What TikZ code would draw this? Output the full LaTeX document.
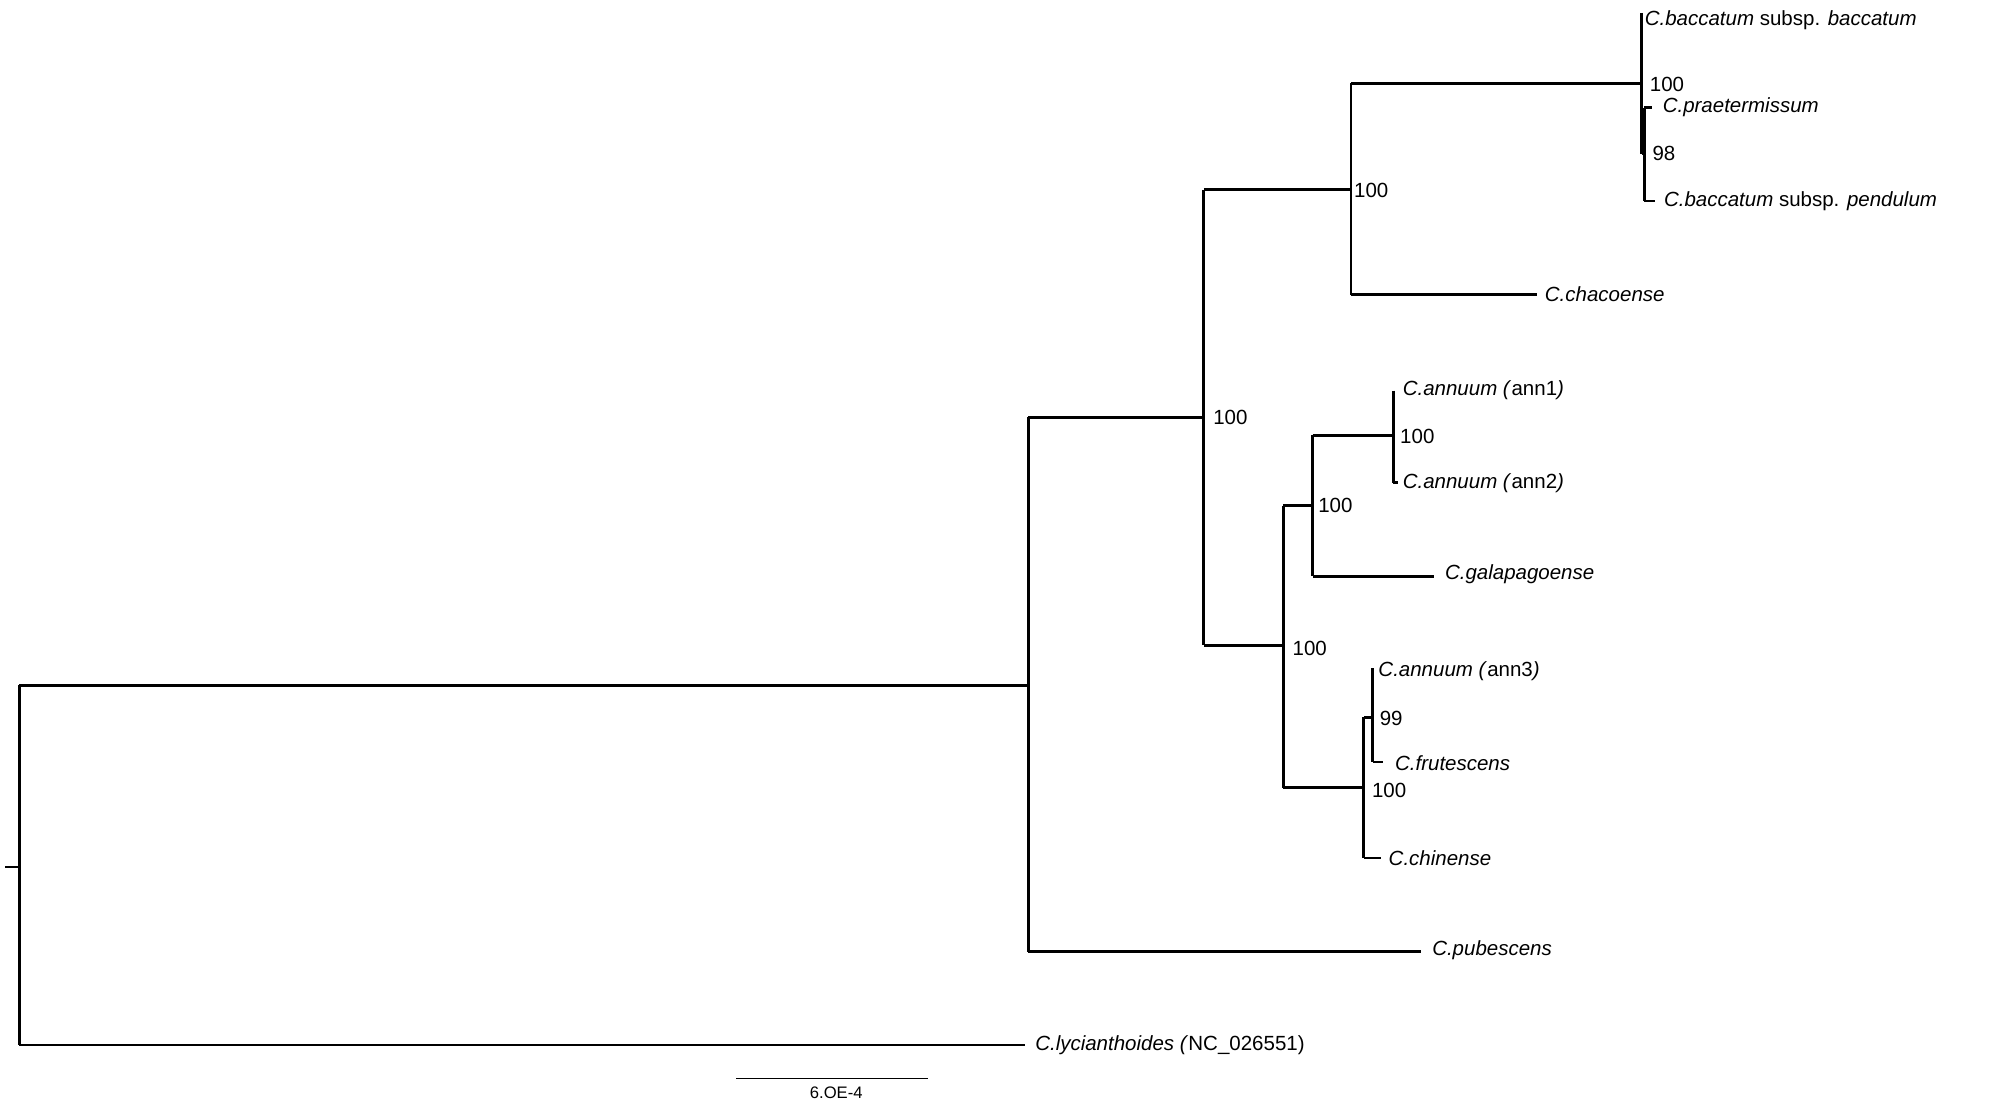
\documentclass[tikz,border=0pt]{standalone}
\usepackage{fontspec}
\setmainfont{Liberation Sans}
\begin{document}
\begin{tikzpicture}[x=0.5pt,y=-0.5pt,
  br/.style={line width=1.1pt},
  tx/.style={anchor=west,inner sep=2pt,font=\fontsize{8}{9}\selectfont},
  bs/.style={anchor=west,inner sep=2pt,font=\fontsize{8}{9}\selectfont}]
\useasboundingbox (0,0) rectangle (1568,861);
% coordinates
\coordinate (r0) at (4,677);
\coordinate (R) at (15,677);
\coordinate (A) at (803,535);
\coordinate (B) at (940,326);
\coordinate (C) at (1055,148);
\coordinate (D) at (1282,65);
\coordinate (E) at (1284,120);
\coordinate (F) at (1002,504);
\coordinate (G) at (1025,395);
\coordinate (H) at (1088,340);
\coordinate (I) at (1065,615);
\coordinate (J) at (1072,560);
% tips
\coordinate (tpra) at (1290,84);
\coordinate (tpen) at (1292,157);
\coordinate (tcha) at (1200,230);
\coordinate (ta2) at (1092,377);
\coordinate (tgal) at (1120,450);
\coordinate (tfru) at (1080,595);
\coordinate (tchi) at (1078,670);
\coordinate (tpub) at (1110,743);
\coordinate (tlyc) at (800,816);
% branches
\draw[br] (r0) -- (R);
\draw[br] (15,535) -- (15,816);
\draw[br] (15,535) -- (A);
\draw[br] (15,816) -- (tlyc);
\draw[br] (803,326) -- (803,743);
\draw[br] (803,743) -- (tpub);
\draw[br] (803,326) -- (B);
\draw[br] (940,148) -- (940,504);
\draw[br] (940,148) -- (C);
\draw[br] (940,504) -- (F);
\draw[br] (1055,65) -- (1055,230);
\draw[br] (1055,65) -- (D);
\draw[br] (1055,230) -- (tcha);
\draw[br] (1282,10) -- (1282,120);
\draw[br] (1282,120) -- (E);
\draw[br] (1284,84) -- (1284,157);
\draw[br] (1284,84) -- (tpra);
\draw[br] (1284,157) -- (tpen);
\draw[br] (1002,395) -- (1002,615);
\draw[br] (1002,395) -- (G);
\draw[br] (1002,615) -- (I);
\draw[br] (1025,340) -- (1025,450);
\draw[br] (1025,340) -- (H);
\draw[br] (1025,450) -- (tgal);
\draw[br] (1088,305) -- (1088,377);
\draw[br] (1088,377) -- (ta2);
\draw[br] (1065,560) -- (1065,670);
\draw[br] (1065,560) -- (J);
\draw[br] (1065,670) -- (tchi);
\draw[br] (1072,522) -- (1072,595);
\draw[br] (1072,595) -- (tfru);
% labels
\node[tx] (lbac) at (1280,16) {\textit{C.baccatum} subsp. \textit{baccatum}};
\node[tx] (lpra) at (1294,84) {\textit{C.praetermissum}};
\node[tx] (lpen) at (1295,157) {\textit{C.baccatum} subsp. \textit{pendulum}};
\node[tx] (lcha) at (1202,230) {\textit{C.chacoense}};
\node[tx] (la1) at (1091,305) {\textit{C.annuum (}ann1\textit{)}};
\node[tx] (la2) at (1091,377) {\textit{C.annuum (}ann2\textit{)}};
\node[tx] (lgal) at (1124,448) {\textit{C.galapagoense}};
\node[tx] (la3) at (1072,524) {\textit{C.annuum (}ann3\textit{)}};
\node[tx] (lfru) at (1085,596) {\textit{C.frutescens}};
\node[tx] (lchi) at (1080,670) {\textit{C.chinense}};
\node[tx] (lpub) at (1114,742) {\textit{C.pubescens}};
\node[tx] (llyc) at (804,816) {\textit{C.lycianthoides (}NC\_026551)};
% support
\node[bs] at (1284,66) {100};
\node[bs] at (1286,120) {98};
\node[bs] at (1053,149) {100};
\node[bs] at (943,326) {100};
\node[bs] at (1025,395) {100};
\node[bs] at (1089,341) {100};
\node[bs] at (1005,506) {100};
\node[bs] at (1073,561) {99};
\node[bs] at (1067,617) {100};
% scale bar
\coordinate (s1) at (575,842);
\coordinate (s2) at (725,842);
\draw[line width=0.6pt] (s1) -- (s2);
\node[font=\fontsize{6.5}{7}\selectfont,inner sep=1pt] (sl) at (653,853) {6.OE-4};
\end{tikzpicture}
\end{document}
